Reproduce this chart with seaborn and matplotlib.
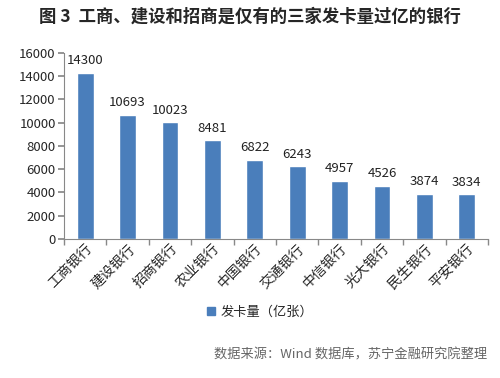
import matplotlib
matplotlib.use("Agg")
import matplotlib.pyplot as plt
import numpy as np
import pandas as pd
import seaborn as sns
from matplotlib.patches import Patch

banks = ["工商银行", "建设银行", "招商银行", "农业银行", "中国银行",
         "交通银行", "中信银行", "光大银行", "民生银行", "平安银行"]
cards = [14300, 10693, 10023, 8481, 6822, 6243, 4957, 4526, 3874, 3834]
series_name = "发卡量（亿张）"
title = "图 3  工商、建设和招商是仅有的三家发卡量过亿的银行"
source = "数据来源：Wind 数据库，苏宁金融研究院整理"

df = pd.DataFrame({"bank": banks, "cards": cards})

sns.set_theme(style="white")
plt.rcParams["font.family"] = ["Noto Sans CJK SC", "DejaVu Sans"]

bar_color = "#4A7EBB"
fig = plt.figure(figsize=(5, 3.78), dpi=100)
ax = fig.add_axes([0.128, 0.368, 0.848, 0.492])

sns.barplot(data=df, x="bank", y="cards", color=bar_color, width=0.4,
            saturation=1, ax=ax)

for i, v in enumerate(cards):
    ax.text(i, v + 500, str(v), ha="center", va="bottom", fontsize=9.5, color="#222222")

ax.set_ylim(0, 16000)
ax.set_yticks(np.arange(0, 16001, 2000))
ax.set_xlim(-0.5, len(banks) - 0.5)
ax.set_xlabel("")
ax.set_ylabel("")
ax.tick_params(axis="y", labelsize=9.5, length=4, color="#888888", left=True, pad=2)
ax.tick_params(axis="x", length=0, pad=2, labelsize=10)
ax.set_xticks(range(len(banks)))
ax.set_xticklabels(banks, rotation=45, ha="right", rotation_mode="anchor")
ax.set_xticks(np.arange(-0.5, len(banks), 1), minor=True)
ax.tick_params(axis="x", which="minor", length=4, color="#888888", bottom=True)

for s in ["top", "right"]:
    ax.spines[s].set_visible(False)
for s in ["left", "bottom"]:
    ax.spines[s].set_color("#888888")
    ax.spines[s].set_linewidth(0.8)

fig.text(0.5, 0.955, title, ha="center", va="center", fontsize=12.5, fontweight="bold")

fig.legend(handles=[Patch(color=bar_color, label=series_name)],
           loc="center", bbox_to_anchor=(0.52, 0.175), frameon=False,
           fontsize=9.5, handlelength=0.6, handleheight=0.6, handletextpad=0.4)

fig.text(0.975, 0.06, source, ha="right", va="center", fontsize=9.5,
         style="italic", color="#666666")

fig.savefig("out.png", dpi=100)
plt.close(fig)
